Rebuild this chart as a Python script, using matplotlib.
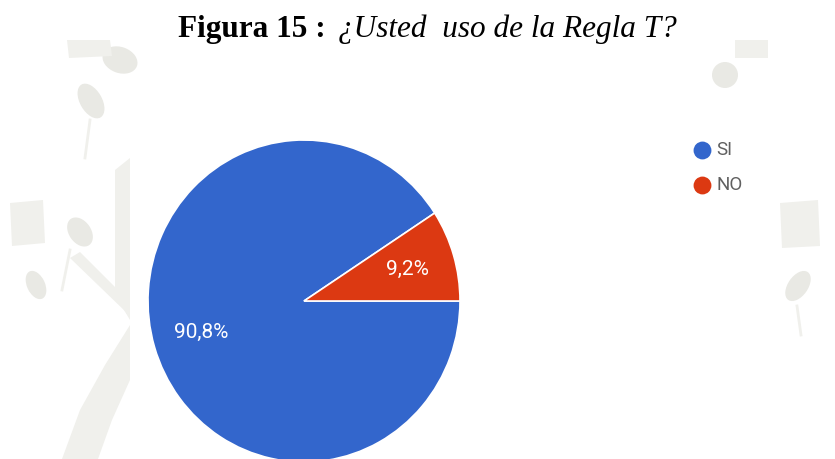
import matplotlib.pyplot as plt
from matplotlib.patches import Rectangle, Ellipse, Polygon

# survey answers
categories = ['SI', 'NO']
percentages = [90.8, 9.2]
colors = ['#3366cc', '#dc3912']

title_bold = 'Figura 15 :'
title_italic = '¿Usted  uso de la Regla T?'

W, H = 835, 459
fig = plt.figure(figsize=(W / 100, H / 100), dpi=100)

# page layer in pixel units (origin top-left)
bg = fig.add_axes([0, 0, 1, 1])
bg.set_xlim(0, W)
bg.set_ylim(H, 0)
bg.axis('off')

# faint seal printed behind the page
seal = '#f0f0ec'
seal_dark = '#e9e9e4'
for xy, w, h, ang in [((91, 101), 22, 38, -30), ((80, 232), 22, 32, -35),
                      ((36, 285), 18, 30, -25), ((798, 286), 20, 34, 35),
                      ((725, 75), 26, 26, 0), ((120, 60), 36, 26, 20)]:
    bg.add_patch(Ellipse(xy, w, h, angle=ang, facecolor=seal_dark, edgecolor='none'))
for pts in [[(10, 203), (43, 200), (45, 243), (12, 246)],
            [(780, 203), (818, 200), (820, 246), (782, 248)],
            [(67, 40), (110, 40), (112, 56), (69, 58)],
            [(735, 40), (768, 40), (768, 58), (735, 58)],
            [(115, 170), (130, 158), (130, 320), (115, 295)],
            [(130, 325), (130, 380), (112, 420), (98, 459), (62, 459), (80, 410), (105, 365)],
            [(70, 258), (80, 252), (128, 300), (128, 314)]]:
    bg.add_patch(Polygon(pts, closed=True, facecolor=seal, edgecolor='none'))
bg.plot([90, 85], [120, 158], color=seal, lw=2)
bg.plot([797, 801], [306, 335], color=seal, lw=2)
bg.plot([70, 62], [250, 290], color=seal, lw=2)

# white chart card
bg.add_patch(Rectangle((130, 90), 647, 380, facecolor='white',
                       edgecolor='none', zorder=2))

# legend with round markers
legend_y = [150, 185]
for label, color, y in zip(categories, colors, legend_y):
    bg.scatter([702], [y], s=165, color=color, zorder=3, linewidths=0)
    bg.text(716, y, label, fontsize=13.5, fontfamily='Roboto', color='#606060',
            va='center', ha='left', zorder=3)

# title
fig.text(178 / W, 1 - 37 / H, title_bold, fontfamily='Liberation Serif',
         fontweight='bold', fontsize=22.5, va='baseline', ha='left')
fig.text(338 / W, 1 - 37 / H, title_italic, fontfamily='Liberation Serif',
         fontstyle='italic', fontsize=22.5, va='baseline', ha='left')

# pie: centre (304, 301) px, radii 156 x 161 px
cx, cy, rx, ry = 304, 301, 156, 161
pie_ax = fig.add_axes([(cx - 1.25 * rx) / W, (H - cy - 1.25 * ry) / H,
                       2.5 * rx / W, 2.5 * ry / H])
pie_ax.set_zorder(3)
pie_ax.pie(percentages, colors=colors,
           startangle=360 * percentages[1] / sum(percentages),
           counterclock=True,
           autopct=lambda p: f'{p:.1f}%'.replace('.', ','),
           pctdistance=0.69,
           wedgeprops=dict(edgecolor='white', linewidth=1.2),
           textprops=dict(color='white', fontsize=15, fontfamily='Roboto'))
pie_ax.set_aspect('auto')
pie_ax.set_xlim(-1.25, 1.25)
pie_ax.set_ylim(-1.25, 1.25)

fig.savefig('out.png', dpi=100)
